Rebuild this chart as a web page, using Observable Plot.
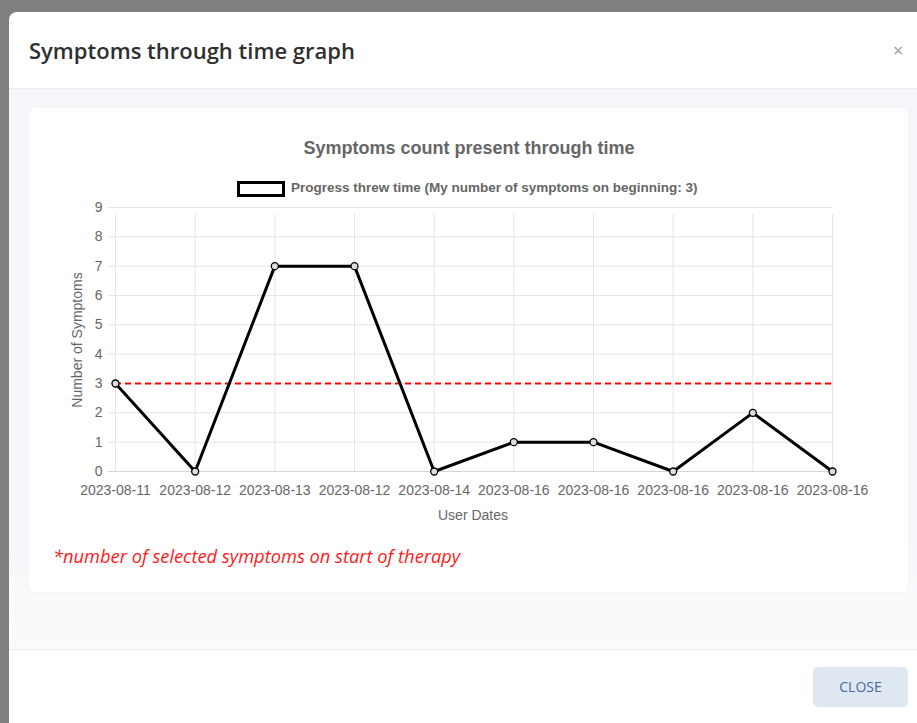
<!DOCTYPE html>
<html>
<head>
<meta charset="utf-8">
<script src="https://cdn.jsdelivr.net/npm/d3@7"></script>
<script src="https://cdn.jsdelivr.net/npm/@observablehq/plot@0.6"></script>
<style>
  html, body { margin: 0; padding: 0; }
  body { width: 917px; height: 723px; background: #7f7f7f; position: relative; overflow: hidden; font-family: "Liberation Sans", Arial, sans-serif; }
  .modal { position: absolute; left: 9px; top: 12px; width: 930px; height: 740px; background: #fff; border-radius: 8px; }
  .header-title { position: absolute; left: 29px; top: 35px; font-family: "Open Sans", sans-serif; font-weight: 600; font-size: 22px; color: #2f2f2f; white-space: nowrap; }
  .close-x { position: absolute; left: 893px; top: 38px; font-family: "Open Sans", sans-serif; font-size: 18px; color: #9a9a9a; }
  .bodyarea { position: absolute; left: 9px; top: 88px; width: 920px; height: 560px; background: linear-gradient(180deg, #f6f7fa 0%, #f5f7fa 80%, #fafbfc 100%); border-top: 1px solid #ebedf0; border-bottom: 1px solid #ebedf0; }
  .card { position: absolute; left: 29px; top: 108px; width: 879px; height: 484px; background: #fff; border-radius: 6px; box-shadow: 0 0 3px rgba(0,0,0,0.04); }
  .ctitle { position: absolute; left: 0; width: 938px; top: 138px; text-align: center; font-weight: bold; font-size: 18px; color: #666; }
  .legend { position: absolute; left: 237px; top: 180px; height: 16px; white-space: nowrap; }
  .legend .box { position: absolute; left: 0; top: 1px; width: 42px; height: 10px; border: 3px solid #000; background: #fff; }
  .legend .txt { position: absolute; left: 54px; top: 0px; font-weight: bold; font-size: 13.5px; color: #666; line-height: 16px; }
  #chart { position: absolute; left: 30px; top: 195px; }
  .ylab { position: absolute; left: 77px; top: 340px; transform: translate(-50%, -50%) rotate(-90deg); font-size: 14px; color: #666; white-space: nowrap; }
  .xlab { position: absolute; left: 473px; top: 507px; transform: translateX(-50%); font-size: 14px; color: #666; white-space: nowrap; }
  .note { position: absolute; left: 53px; top: 543px; font-family: "Open Sans", sans-serif; font-style: italic; font-size: 18.3px; color: #ff1a1a; white-space: nowrap; }
  .btn { position: absolute; left: 813px; top: 667px; width: 95px; height: 40px; background: #dfe7f3; border-radius: 5px; font-family: "Open Sans", sans-serif; font-size: 14px; color: #4b6a9b; text-align: center; line-height: 40px; }
</style>
</head>
<body>
<div class="modal"></div>
<div class="header-title">Symptoms through time graph</div>
<div class="close-x">×</div>
<div class="bodyarea"></div>
<div class="card"></div>
<div class="ctitle">Symptoms count present through time</div>
<div class="legend"><div class="box"></div><div class="txt">Progress threw time (My number of symptoms on beginning: 3)</div></div>
<div id="chart"></div>
<div class="ylab">Number of Symptoms</div>
<div class="xlab">User Dates</div>
<div class="note">*number of selected symptoms on start of therapy</div>
<div class="btn">CLOSE</div>
<script>
const dateLabels = ["2023-08-11","2023-08-12","2023-08-13","2023-08-12","2023-08-14","2023-08-16","2023-08-16","2023-08-16","2023-08-16","2023-08-16"];
const symptomCounts = [3, 0, 7, 7, 0, 1, 1, 0, 2, 0];
const startSymptoms = 3;
const yTicks = [0,1,2,3,4,5,6,7,8,9];

const rows = dateLabels.map((d, i) => ({i, label: d, v: symptomCounts[i]}));
const idx = rows.map(r => r.i);

const chart = Plot.plot({
  width: 880,
  height: 340,
  marginLeft: 85,
  marginRight: 78,
  marginTop: 12,
  marginBottom: 64,
  style: {fontFamily: "'Liberation Sans', Arial, sans-serif", fontSize: "14px", color: "#666", background: "transparent", overflow: "visible"},
  x: {type: "point", domain: idx, padding: 0, round: false, axis: null},
  y: {domain: [0, 9], axis: null},
  marks: [
    Plot.ruleX(idx, {x: d => d, y1: 0, y2: 9, stroke: "#e5e5e5", strokeWidth: 1, insetBottom: -7}),
    Plot.ruleY(yTicks, {y: d => d, x1: 0, x2: 9, stroke: d => d === 0 ? "#d4d4d4" : "#e5e5e5", strokeWidth: 1, insetLeft: -7}),
    Plot.axisY(yTicks, {tickSize: 0, tickPadding: 13, fontSize: 14, fill: "#666", label: null}),
    Plot.axisX(idx, {tickSize: 0, tickPadding: 14, fontSize: 14, fill: "#666", tickFormat: i => dateLabels[i], label: null}),
    Plot.ruleY([startSymptoms], {stroke: "#ff0000", strokeWidth: 2, strokeDasharray: "6,4"}),
    Plot.line(rows, {x: "i", y: "v", stroke: "#000", strokeWidth: 3}),
    Plot.dot(rows, {x: "i", y: "v", r: 3.5, stroke: "#000", strokeWidth: 1.3, fill: "#ddd"})
  ]
});
document.getElementById("chart").appendChild(chart);
</script>
</body>
</html>
